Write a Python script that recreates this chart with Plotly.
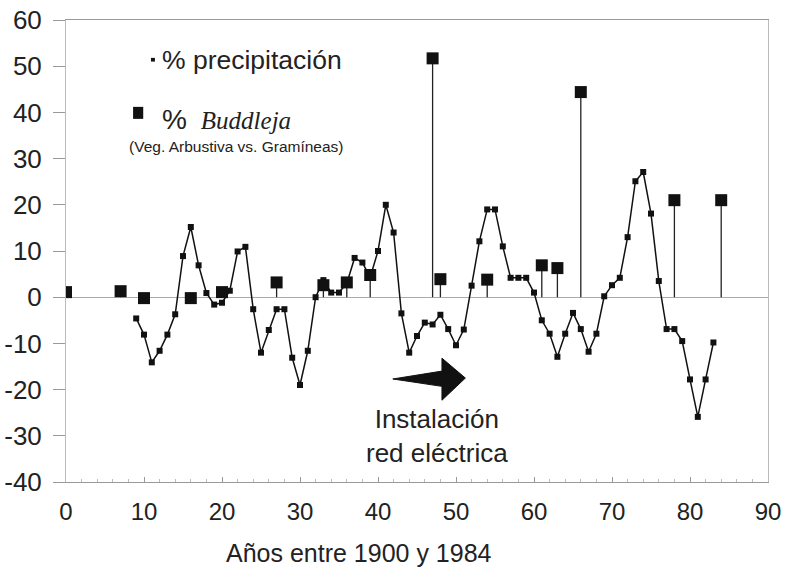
import plotly.graph_objects as go

# ---- data ----
precip_years = [9, 10, 11, 12, 13, 14, 15, 16, 17, 18, 19, 20, 21, 22, 23, 24, 25, 26, 27, 28,
                29, 30, 31, 32, 33, 34, 35, 36, 37, 38, 39, 40, 41, 42, 43, 44, 45, 46, 47, 48,
                49, 50, 51, 52, 53, 54, 55, 56, 57, 58, 59, 60, 61, 62, 63, 64, 65, 66, 67, 68,
                69, 70, 71, 72, 73, 74, 75, 76, 77, 78, 79, 80, 81, 82, 83]
precip_values = [-4.6, -8.1, -14.1, -11.6, -8.1, -3.7, 8.9, 15.2, 6.9, 0.9, -1.6, -1.2, 1.4, 9.9, 10.9,
                 -2.6, -12.0, -7.1, -2.6, -2.6, -13.1, -19.0, -11.6, 0.0, 3.7, 1.0, 1.0, 3.0, 8.5, 7.5,
                 4.3, 10.0, 20.0, 14.0, -3.5, -12.0, -8.4, -5.5, -5.9, -3.8, -6.9, -10.4, -7.0, 2.5,
                 12.1, 19.0, 19.0, 11.0, 4.2, 4.2, 4.2, 1.0, -5.0, -7.9, -12.9, -7.9, -3.4, -6.9,
                 -11.8, -7.9, 0.2, 2.6, 4.2, 13.0, 25.1, 27.1, 18.1, 3.5, -6.9, -6.9, -9.5, -17.8,
                 -25.9, -17.8, -9.8]

buddleja_years = [0, 7, 10, 16, 20, 27, 33, 36, 39, 47, 48, 54, 61, 63, 66, 78, 84]
buddleja_values = [1.1, 1.3, -0.2, -0.2, 1.1, 3.2, 2.6, 3.2, 4.8, 51.7, 3.9, 3.8, 6.9, 6.3, 44.4, 21.0, 21.0]

x_ticks = [0, 10, 20, 30, 40, 50, 60, 70, 80, 90]
y_ticks = [-40, -30, -20, -10, 0, 10, 20, 30, 40, 50, 60]

FONT = "Liberation Sans"

# stems from zero to each Buddleja value
stem_x, stem_y = [], []
for yr, v in zip(buddleja_years, buddleja_values):
    stem_x += [yr, yr, None]
    stem_y += [0, v, None]

fig = go.Figure()
fig.add_trace(go.Scatter(x=stem_x, y=stem_y, mode="lines",
                         line=dict(color="#222", width=1.3), hoverinfo="skip", showlegend=False))
fig.add_trace(go.Scatter(x=precip_years, y=precip_values, mode="lines+markers",
                         line=dict(color="#111", width=1.5),
                         marker=dict(symbol="square", size=6, color="#111"),
                         name="% precipitación", showlegend=False))
fig.add_trace(go.Scatter(x=buddleja_years, y=buddleja_values, mode="markers",
                         marker=dict(symbol="square", size=12, color="#111"),
                         name="% Buddleja", showlegend=False))

# arrow shape (Instalación red eléctrica)
fig.add_shape(type="path",
              path="M 41.9,-17.7 L 48.2,-16.0 L 48.2,-13.2 L 51.2,-17.5 L 48.2,-22.3 L 48.2,-19.3 Z",
              xref="x", yref="y", fillcolor="#111", line=dict(color="#111", width=1))

fig.add_annotation(x=47.6, y=-30.0, xref="x", yref="y",
                   text="Instalación<br>red eléctrica", showarrow=False,
                   font=dict(family=FONT, size=26, color="#222"), align="center")

# legend drawn as shapes + annotations
fig.add_shape(type="rect", xref="x", yref="y", x0=10.9, x1=11.4, y0=51.0, y1=51.8,
              fillcolor="#111", line=dict(width=0))
fig.add_annotation(x=12.1, y=51.3, xref="x", yref="y", xanchor="left",
                   text="% precipitación", showarrow=False,
                   font=dict(family=FONT, size=26.5, color="#222"))
fig.add_shape(type="rect", xref="x", yref="y", x0=8.6, x1=9.9, y0=38.6, y1=41.2,
              fillcolor="#111", line=dict(width=0))
fig.add_annotation(x=12.1, y=38.5, xref="x", yref="y", xanchor="left",
                   text="<span style='font-size:28px'>%</span>  <i><span style='font-family:Liberation Serif'>Buddleja</span></i>",
                   showarrow=False, font=dict(family=FONT, size=25, color="#222"))
fig.add_annotation(x=7.8, y=32.6, xref="x", yref="y", xanchor="left",
                   text="(Veg. Arbustiva vs. Gramíneas)", showarrow=False,
                   font=dict(family=FONT, size=15.5, color="#222"))

# x-axis title (offset to the left of the plot centre, as in the original)
fig.add_annotation(x=0.417, y=-0.154, xref="paper", yref="paper", yanchor="middle",
                   text="Años entre 1900 y 1984", showarrow=False,
                   font=dict(family=FONT, size=25, color="#222"))

fig.update_layout(
    width=786, height=569,
    margin=dict(l=66, r=18, t=20, b=87),
    paper_bgcolor="white", plot_bgcolor="white",
    font=dict(family=FONT, color="#222"),
    showlegend=False,
)
fig.update_xaxes(range=[0, 90], tickvals=x_ticks, ticktext=[str(t) for t in x_ticks],
                 automargin=False, ticklabeloverflow="allow",
                 showgrid=False, zeroline=False,
                 showline=True, linecolor="#999", linewidth=1, mirror=True,
                 ticks="inside", ticklen=5, tickcolor="#999",
                 minor=dict(dtick=2, ticks="inside", ticklen=3, tickcolor="#bbb"),
                 tickfont=dict(family=FONT, size=24, color="#222"),
                 ticklabelstandoff=8)
fig.update_yaxes(range=[-40, 60], tickvals=y_ticks, ticktext=[str(t) for t in y_ticks],
                 automargin=False, ticklabeloverflow="allow",
                 showgrid=False, zeroline=True, zerolinecolor="#aaa", zerolinewidth=1,
                 showline=True, linecolor="#bbb", linewidth=1, mirror=True,
                 ticks="outside", ticklen=12, tickcolor="#999",
                 ticklabelstandoff=6,
                 tickfont=dict(family=FONT, size=26, color="#222"))

# remove the page's default body margin so the figure fills the window exactly
fig.write_html("out.html", config={"displayModeBar": False},
               post_script="document.body.style.margin='0';")
